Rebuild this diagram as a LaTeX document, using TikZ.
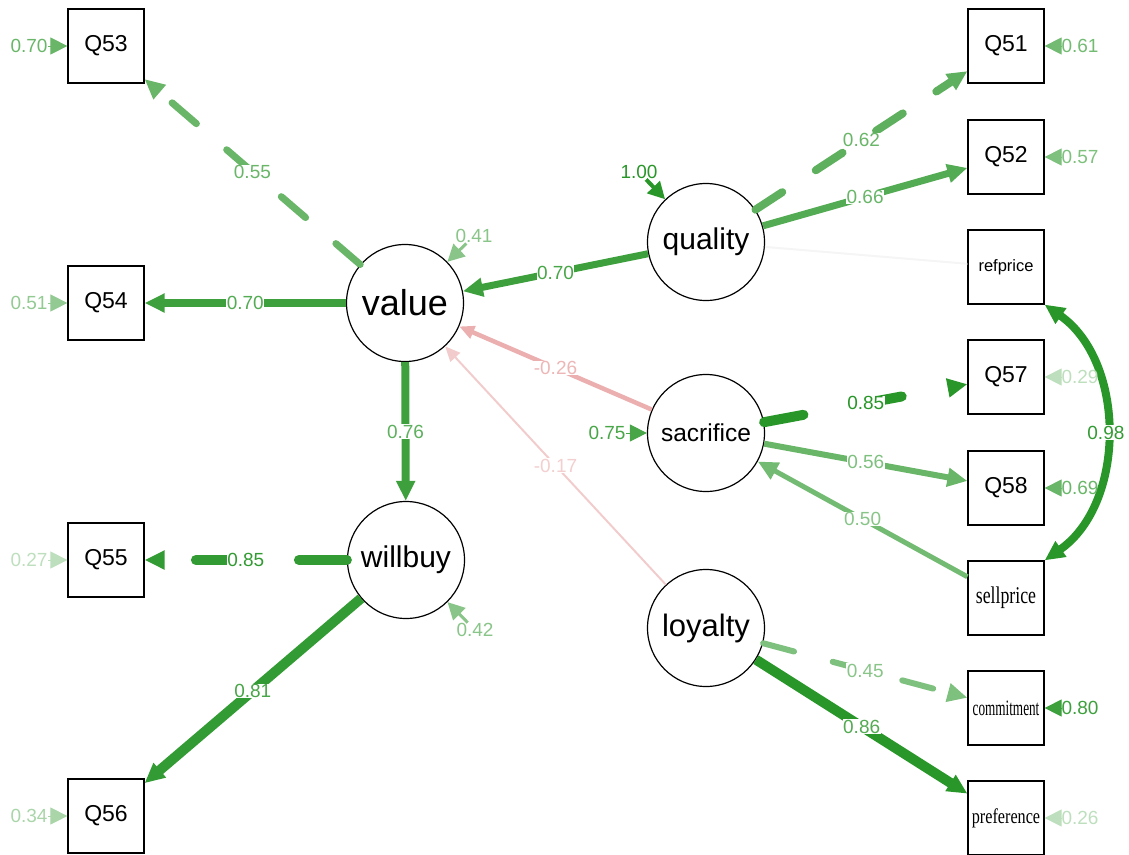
\documentclass[tikz,border=0pt]{standalone}
\usepackage{fontspec}
\setmainfont{Liberation Sans}
\newfontfamily\timesfont{Liberation Serif}
\usetikzlibrary{arrows.meta}

\definecolor{semgreen}{RGB}{40,150,40}
\definecolor{semred}{RGB}{215,95,95}

\newcommand{\fs}[1]{\fontsize{#1}{#1}\selectfont}

\begin{document}
\begin{tikzpicture}[x=1pt,y=-1pt,
    latent/.style={draw,circle,minimum size=117pt,inner sep=0pt,line width=1.2pt},
    manifest/.style={draw,rectangle,minimum width=76pt,minimum height=74pt,inner sep=0pt,line width=1.2pt,font=\fs{23}},
    elab/.style={fill=white,inner sep=0.5pt,font=\fs{19}},
    rlab/.style={inner sep=0.5pt,font=\fs{19}},
    tip/.style={-{Triangle[length=20pt,width=18pt]}},
    smalltip/.style={-{Triangle[length=15pt,width=13pt]}},
    resid/.style={-{Triangle[length=17pt,width=17pt]},line width=1pt},
    dashline/.style={dash pattern=on 32pt off 40pt,line cap=round}
]
    \path[use as bounding box] (0,0) rectangle (1129,854);

    % Define latent variables
    \node[latent,font=\fs{36}] (value) at (405,303) {value};
    \node[latent,font=\fs{30}] (willbuy) at (406,560) {willbuy};
    \node[latent,font=\fs{30}] (quality) at (706,242) {quality};
    \node[latent,font=\fs{24.5}] (sacrifice) at (706,433) {sacrifice};
    \node[latent,font=\fs{31}] (loyalty) at (706,628) {loyalty};

    % Define observed variables
    \node[manifest] (Q53) at (106,46) {Q53};
    \node[manifest] (Q54) at (106,303) {Q54};
    \node[manifest] (Q55) at (106,560) {Q55};
    \node[manifest] (Q56) at (106,816) {Q56};
    \node[manifest] (Q51) at (1006,46) {Q51};
    \node[manifest] (Q52) at (1006,157) {Q52};
    \node[manifest,font=\fs{16.5}] (refprice) at (1006,267) {refprice};
    \node[manifest] (Q57) at (1006,377) {Q57};
    \node[manifest] (Q58) at (1006,488) {Q58};
    \node[manifest,font=\timesfont\fs{24}] (sellprice) at (1006,598) {\scalebox{0.74}[1]{sellprice}};
    \node[manifest,font=\timesfont\fs{22}] (commitment) at (1006,708) {\scalebox{0.6}[1]{commitment}};
    \node[manifest,font=\timesfont\fs{21}] (preference) at (1006,818) {\scalebox{0.77}[1]{preference}};

    % Draw loadings of value and willbuy
    \draw[tip,dashline,semgreen!70,line width=7pt] (value) -- node[elab,text=semgreen!70] {0.55} (Q53);
    \draw[tip,semgreen!90,line width=8pt] (value) -- node[elab,text=semgreen!80] {0.70} (Q54);
    \draw[tip,semgreen!90,line width=8pt] (value) -- node[elab,text=semgreen!75] {0.76} (willbuy);
    \draw[tip,semgreen!95,line width=10pt,dash pattern=on 48pt off 55pt,line cap=round] (willbuy) -- node[elab,text=semgreen!95] {0.85} (Q55);
    \draw[tip,semgreen!95,line width=10pt] (willbuy) -- node[elab,text=semgreen!85] {0.81} (Q56);

    % Draw paths into value
    \draw[tip,semgreen!90,line width=7pt] (quality) -- node[elab,text=semgreen!85] {0.70} (value);
    \draw[smalltip,semred!50,line width=4.5pt] (sacrifice) -- node[elab,text=semred!45] {-0.26} (value);
    \draw[smalltip,semred!32,line width=2pt] (loyalty) -- node[elab,text=semred!30] {-0.17} (value);

    % Draw loadings on the right
    \draw[gray!8,line width=2pt] (quality) -- (refprice);
    \draw[tip,dashline,semgreen!75,line width=8pt] (quality) -- node[elab,text=semgreen!70] {0.62} (Q51);
    \draw[tip,semgreen!80,line width=7pt] (quality) -- node[elab,text=semgreen!70] {0.66} (Q52);
    \draw[tip,semgreen,line width=10pt,dash pattern=on 40pt off 60pt,line cap=round] (sacrifice) -- node[elab,text=semgreen] {0.85} (Q57);
    \draw[tip,semgreen!70,line width=6pt] (sacrifice) -- node[elab,text=semgreen!60] {0.56} (Q58);
    \draw[tip,semgreen!65,line width=5pt] (sellprice) -- node[elab,text=semgreen!55] {0.50} (sacrifice);
    \draw[tip,dashline,semgreen!60,line width=6pt] (loyalty) -- node[elab,text=semgreen!55] {0.45} (commitment);
    \draw[tip,semgreen,line width=10pt] (loyalty) -- node[elab,text=semgreen!80] {0.86} (preference);

    % Draw covariance of refprice and sellprice
    \draw[{Triangle[length=20pt,width=18pt]}-{Triangle[length=20pt,width=18pt]},semgreen,line width=8pt]
        (refprice.south east) to[out=-35,in=35] node[elab,text=semgreen!95] {0.98} (sellprice.north east);

    % Draw residual variances
    \node[rlab,text=semgreen!70] (r53) at (29,46) {0.70};
    \node[rlab,text=semgreen!50] (r54) at (29,303) {0.51};
    \node[rlab,text=semgreen!30] (r55) at (29,560) {0.27};
    \node[rlab,text=semgreen!40] (r56) at (29,816) {0.34};
    \node[rlab,text=semgreen!65] (r51) at (1080,46) {0.61};
    \node[rlab,text=semgreen!60] (r52) at (1080,157) {0.57};
    \node[rlab,text=semgreen!30] (r57) at (1080,377) {0.29};
    \node[rlab,text=semgreen!70] (r58) at (1080,488) {0.69};
    \node[rlab,text=semgreen!90] (rcom) at (1080,708) {0.80};
    \node[rlab,text=semgreen!30] (rpref) at (1080,818) {0.26};
    \node[rlab,text=semgreen!55] (rvalue) at (474,236) {0.41};
    \node[rlab,text=semgreen!55] (rwillbuy) at (475,630) {0.42};
    \node[rlab,text=semgreen] (rquality) at (639,172) {1.00};
    \node[rlab,text=semgreen!85] (rsacrifice) at (607,433) {0.75};

    \draw[resid,semgreen!70] (r53) -- (Q53);
    \draw[resid,semgreen!50] (r54) -- (Q54);
    \draw[resid,semgreen!30] (r55) -- (Q55);
    \draw[resid,semgreen!40] (r56) -- (Q56);
    \draw[resid,semgreen!65] (r51) -- (Q51);
    \draw[resid,semgreen!60] (r52) -- (Q52);
    \draw[resid,semgreen!30] (r57) -- (Q57);
    \draw[resid,semgreen!70] (r58) -- (Q58);
    \draw[resid,semgreen!90] (rcom) -- (commitment);
    \draw[resid,semgreen!30] (rpref) -- (preference);
    \draw[resid,semgreen!55,line width=3pt] (rvalue) -- (value);
    \draw[resid,semgreen!55,line width=3pt] (rwillbuy) -- (willbuy);
    \draw[resid,semgreen,line width=4pt] (rquality) -- (quality);
    \draw[resid,semgreen!85] (rsacrifice) -- (sacrifice);
\end{tikzpicture}
\end{document}
